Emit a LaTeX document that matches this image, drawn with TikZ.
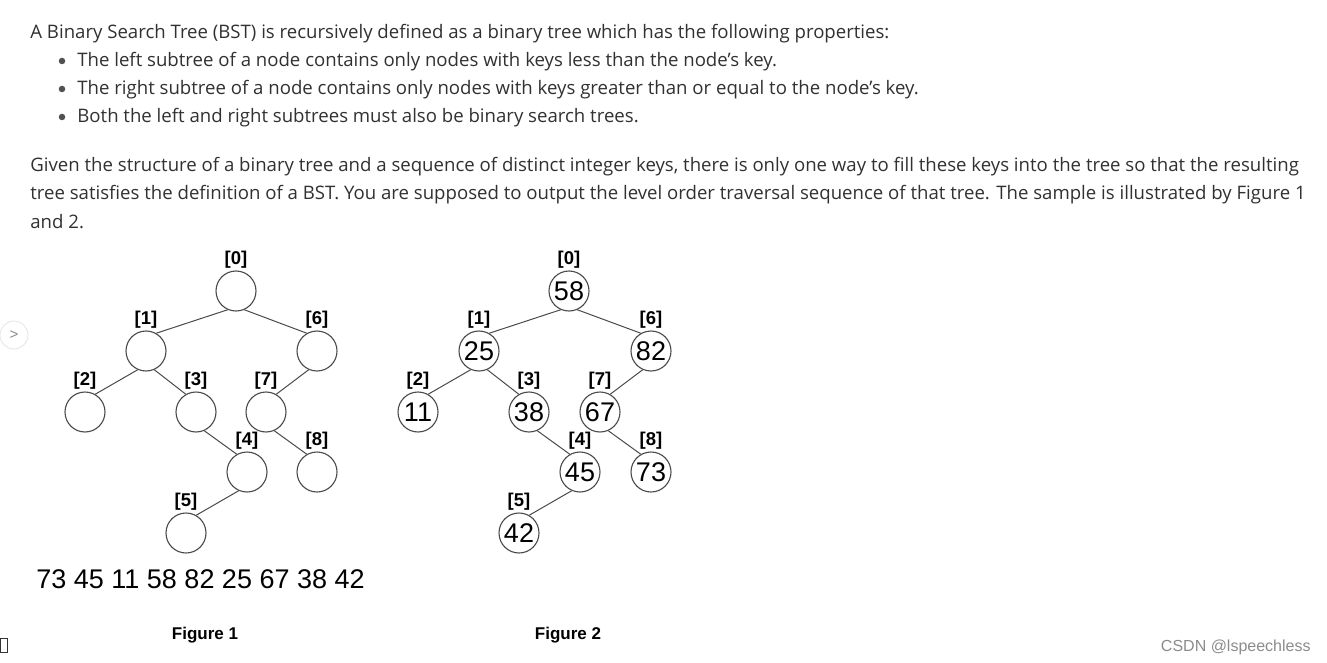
\documentclass[tikz,border=0pt]{standalone}
\usepackage{fontspec}
\setmainfont{Open Sans}
\newfontfamily\arialfont{Liberation Sans}
\usetikzlibrary{positioning}

\definecolor{bodytext}{HTML}{303133}
\definecolor{ringgray}{HTML}{4A4A4A}
\newcommand{\bodysize}{\fontsize{18.6}{28}\selectfont}
\newcommand{\keysize}{\arialfont\fontsize{27}{30}\selectfont}
\newcommand{\idxsize}{\arialfont\bfseries\fontsize{18.5}{20}\selectfont}

\begin{document}
\begin{tikzpicture}[x=1pt, y=-1pt, thick, node distance=1pt]
  \tikzstyle{line}=[anchor=base west, inner sep=0pt, text=bodytext, font=\bodysize]
  \tikzstyle{dot}=[circle, fill=bodytext!85, minimum size=6.5pt, inner sep=0pt]
  \tikzstyle{vertex}=[draw=ringgray, line width=1.1pt, circle, minimum size=40pt, inner sep=0pt, font=\keysize]
  \tikzstyle{idx}=[inner sep=0.5pt, font=\idxsize]
  \tikzstyle{edge}=[draw=ringgray, line width=1pt]
  \tikzstyle{caption}=[inner sep=0pt, anchor=base, font=\arialfont\bfseries\fontsize{17}{20}\selectfont]

  \useasboundingbox[fill=white] (0,0) rectangle (1327,663);

  % definition text
  \node[line] (t1) at (30,39) {A Binary Search Tree (BST) is recursively defined as a binary tree which has the following properties:};
  \node[dot] (b1) at (62,61) {};
  \node[line] (t2) at (77,67) {The left subtree of a node contains only nodes with keys less than the node's key.};
  \node[dot] (b2) at (62,89) {};
  \node[line] (t3) at (77,95) {The right subtree of a node contains only nodes with keys greater than or equal to the node's key.};
  \node[dot] (b3) at (62,117) {};
  \node[line] (t4) at (77,123) {Both the left and right subtrees must also be binary search trees.};

  \node[line] (p1) at (30,172) {Given the structure of a binary tree and a sequence of distinct integer keys, there is only one way to fill these keys into the tree so that the resulting};
  \node[line] (p2) at (30,200) {tree satisfies the definition of a BST. You are supposed to output the level order traversal sequence of that tree. The sample is illustrated by Figure 1};
  \node[line] (p3) at (30,228) {and 2.};

  % figure 1: empty tree
  \node[vertex] (a0) at (236,291) {};
  \node[vertex] (a1) at (146,351) {};
  \node[vertex] (a6) at (317,351) {};
  \node[vertex] (a2) at (85,412) {};
  \node[vertex] (a3) at (196,412) {};
  \node[vertex] (a7) at (266,412) {};
  \node[vertex] (a4) at (247,472) {};
  \node[vertex] (a8) at (317,472) {};
  \node[vertex] (a5) at (186,533) {};

  \node[idx, above=of a0] (la0) {[0]};
  \node[idx, above=of a1] (la1) {[1]};
  \node[idx, above=of a6] (la6) {[6]};
  \node[idx, above=of a2] (la2) {[2]};
  \node[idx, above=of a3] (la3) {[3]};
  \node[idx, above=of a7] (la7) {[7]};
  \node[idx, above=of a4] (la4) {[4]};
  \node[idx, above=of a8] (la8) {[8]};
  \node[idx, above=of a5] (la5) {[5]};

  \draw[edge] (a0.-114) -- (a1.60);
  \draw[edge] (a0.-66) -- (a6.120);
  \draw[edge] (a1.-114) -- (a2.60);
  \draw[edge] (a1.-66) -- (a3.120);
  \draw[edge] (a6.-114) -- (a7.60);
  \draw[edge] (a3.-66) -- (a4.120);
  \draw[edge] (a7.-66) -- (a8.120);
  \draw[edge] (a4.-114) -- (a5.60);

  \node[inner sep=0pt, anchor=base west, font=\keysize] (seq) at (36,588) {73 45 11 58 82 25 67 38 42};
  \node[caption] (cap1) at (205,639) {Figure 1};

  % figure 2: filled tree
  \node[vertex] (b0) at (569,291) {58};
  \node[vertex] (b1) at (479,351) {25};
  \node[vertex] (b6) at (651,351) {82};
  \node[vertex] (b2) at (418,412) {11};
  \node[vertex] (b3) at (529,412) {38};
  \node[vertex] (b7) at (600,412) {67};
  \node[vertex] (b4) at (580,472) {45};
  \node[vertex] (b8) at (651,472) {73};
  \node[vertex] (b5) at (519,533) {42};

  \node[idx, above=of b0] (lb0) {[0]};
  \node[idx, above=of b1] (lb1) {[1]};
  \node[idx, above=of b6] (lb6) {[6]};
  \node[idx, above=of b2] (lb2) {[2]};
  \node[idx, above=of b3] (lb3) {[3]};
  \node[idx, above=of b7] (lb7) {[7]};
  \node[idx, above=of b4] (lb4) {[4]};
  \node[idx, above=of b8] (lb8) {[8]};
  \node[idx, above=of b5] (lb5) {[5]};

  \draw[edge] (b0.-114) -- (b1.60);
  \draw[edge] (b0.-66) -- (b6.120);
  \draw[edge] (b1.-114) -- (b2.60);
  \draw[edge] (b1.-66) -- (b3.120);
  \draw[edge] (b6.-114) -- (b7.60);
  \draw[edge] (b3.-66) -- (b4.120);
  \draw[edge] (b7.-66) -- (b8.120);
  \draw[edge] (b4.-114) -- (b5.60);

  \node[caption] (cap2) at (568,639) {Figure 2};

  % page furniture
  \node[draw=black!10, circle, minimum size=28pt, inner sep=0pt, text=black!45, font=\arialfont\fontsize{15}{15}\selectfont] (nav) at (14,335) {>};
  \draw[black!80, line width=1pt] (0,638) rectangle (7,652);
  \node[anchor=base east, inner sep=0pt, text=black!45, font=\arialfont\fontsize{16}{16}\selectfont] (mark) at (1311,651) {CSDN @lspeechless};
\end{tikzpicture}
\end{document}
